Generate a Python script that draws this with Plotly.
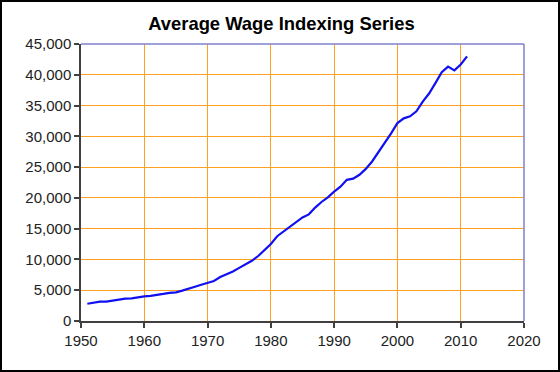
import plotly.graph_objects as go

years = list(range(1951, 2012))
awi = [2799.16, 2973.32, 3139.44, 3155.64, 3301.44, 3532.36, 3641.72, 3673.80, 3855.80, 4007.12,
       4086.76, 4291.40, 4396.64, 4576.32, 4658.72, 4938.36, 5213.44, 5571.76, 5893.76, 6186.24,
       6497.08, 7133.80, 7580.16, 8030.76, 8630.92, 9226.48, 9779.44, 10556.03, 11479.46, 12513.46,
       13773.10, 14531.34, 15239.24, 16135.07, 16822.51, 17321.82, 18426.51, 19334.04, 20099.55, 21027.98,
       21811.60, 22935.42, 23132.67, 23753.53, 24705.66, 25913.90, 27426.00, 28861.44, 30469.84, 32154.82,
       32921.92, 33252.09, 34064.95, 35648.55, 36952.94, 38651.41, 40405.48, 41334.97, 40711.61, 41673.83,
       42979.61]

W, H = 560, 372
ML, MR, MT, MB = 81, 36, 44, 51
PW, PH = W - ML - MR, H - MT - MB

fig = go.Figure(go.Scatter(x=years, y=awi, mode="lines",
                           line=dict(color="#1010f0", width=2.2), hoverinfo="x+y"))

grid = "#ffa020"
fig.update_layout(
    width=W, height=H,
    margin=dict(l=ML, r=MR, t=MT, b=MB, autoexpand=False),
    paper_bgcolor="white", plot_bgcolor="white",
    showlegend=False,
    title=dict(text="<b>Average Wage Indexing Series</b>", x=281.4 / W, xanchor="center",
               y=1 - 24 / H, yanchor="middle",
               font=dict(family="Liberation Sans, Arial", size=18.4, color="black")),
    font=dict(family="Liberation Sans, Arial", size=15, color="#222"),
    xaxis=dict(range=[1950, 2020], tickmode="array", tickvals=list(range(1950, 2021, 10)),
               showgrid=True, gridcolor=grid, gridwidth=1, zeroline=False,
               showline=True, linecolor="#404040", linewidth=1.5,
               ticks="outside", ticklen=5, tickcolor="#404040", tickwidth=1.5),
    yaxis=dict(range=[0, 45000], tickmode="array", tickvals=list(range(0, 45001, 5000)),
               tickformat=",d", showgrid=True, gridcolor=grid, gridwidth=1, zeroline=False,
               showline=True, linecolor="#404040", linewidth=1.5,
               ticks="outside", ticklen=5, tickcolor="#404040", tickwidth=1.5),
    shapes=[
        dict(type="line", xref="paper", yref="paper", x0=0, x1=1, y0=1, y1=1,
             line=dict(color="#8080cc", width=1.5)),
        dict(type="line", xref="paper", yref="paper", x0=1, x1=1, y0=0, y1=1,
             line=dict(color="#8080cc", width=1.5)),
        dict(type="rect", xref="paper", yref="paper",
             x0=(1 - ML) / PW, x1=(W - 1 - ML) / PW,
             y0=(H - MB - (H - 1)) / PH, y1=(H - MB - 1) / PH,
             line=dict(color="black", width=2), layer="above"),
    ],
)

fig.write_html("out.html", config={"displayModeBar": False},
               post_script="document.body.style.margin='0';document.body.style.overflow='hidden';")
